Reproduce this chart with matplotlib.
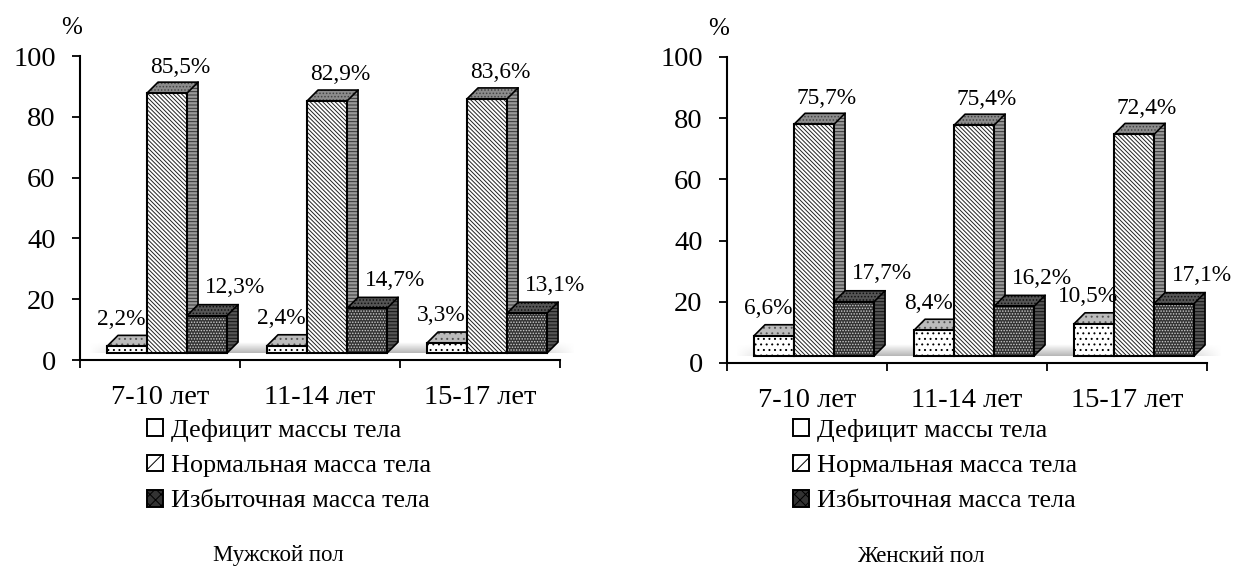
import numpy as np
import matplotlib
matplotlib.use("Agg")
import matplotlib.pyplot as plt
from matplotlib.patches import Patch

plt.rcParams['font.family'] = ['Liberation Serif', 'DejaVu Serif']
plt.rcParams['hatch.linewidth'] = 0.7

categories = ["7-10 лет", "11-14 лет", "15-17 лет"]
series_names = ["Дефицит массы тела", "Нормальная масса тела", "Избыточная масса тела"]
yticks = [0, 20, 40, 60, 80, 100]

male_deficit = [2.2, 2.4, 3.3]
male_normal = [85.5, 82.9, 83.6]
male_excess = [12.3, 14.7, 13.1]

female_deficit = [6.6, 8.4, 10.5]
female_normal = [75.7, 75.4, 72.4]
female_excess = [17.7, 16.2, 17.1]

W, H = 1235, 566
floor = 2.3       # bars stand a bit above the axis line
bar_w = 0.25      # 40 px
depth_x = 11 / 160.
depth_y = 3.6     # 11 px in y units

# front face, top, side: (fill, hatch colour, hatch)
styles = [
    dict(face='white', hc='black', hatch='...', leg='',
         top='#bcbcbc', thc='#555555', thatch='...', side='#777777', sc='#222222'),
    dict(face='white', hc='#222222', hatch='\\\\\\\\\\\\\\\\', leg='//',
         top='#8c8c8c', thc='#444444', thatch='.....', side='#9a9a9a', sc='#333333'),
    dict(face='#333333', hc='#cccccc', hatch='......', leg='xxx',
         top='#555555', thc='#111111', thatch='.....', side='#555555', sc='#111111'),
]
# label offset from the middle of the top edge of the front face, pixels
label_off = [(-6, 27), (13, 26), (28, 28)]


def px(x0, y0, w, h):
    return [x0 / W, 1 - (y0 + h) / H, w / W, h / H]


def draw_chart(rect, series, title, title_x, legend_x):
    ax = fig.add_axes(rect)
    ax.set_xlim(0, 3)
    ax.set_ylim(0, 100)

    # grey floor under the bars
    grad = np.linspace(0, 1, 20).reshape(-1, 1)
    fade = np.minimum(np.linspace(0, 8, 200), 1) * np.minimum(np.linspace(8, 0, 200), 1)
    img = np.ones((20, 200, 4))
    img[..., :3] = 0.72
    img[..., 3] = grad * fade
    ax.imshow(img, extent=(0.05, 3.1, floor, floor + depth_y), aspect='auto', zorder=1,
              clip_on=False)
    ax.set_xlim(0, 3)
    ax.set_ylim(0, 100)

    for i in range(3):
        for j in range(3):
            val = series[j][i]
            s = styles[j]
            x0 = i + 0.169 + j * bar_w
            top = floor + val
            # side and top faces
            ax.fill([x0 + bar_w, x0 + bar_w + depth_x, x0 + bar_w + depth_x, x0 + bar_w],
                    [floor, floor + depth_y, top + depth_y, top],
                    facecolor=s['side'], edgecolor=s['sc'], hatch='-----', lw=0, zorder=2 + j)
            ax.fill([x0, x0 + depth_x, x0 + bar_w + depth_x, x0 + bar_w],
                    [top, top + depth_y, top + depth_y, top],
                    facecolor=s['top'], edgecolor=s['thc'], hatch=s['thatch'], lw=0, zorder=2 + j)
            ax.plot([x0 + bar_w, x0 + bar_w + depth_x, x0 + bar_w + depth_x, x0 + bar_w],
                    [floor, floor + depth_y, top + depth_y, top], color='black', lw=1.2, zorder=2 + j)
            ax.plot([x0, x0 + depth_x, x0 + bar_w + depth_x],
                    [top, top + depth_y, top + depth_y], color='black', lw=1.2, zorder=2 + j)
            # front face
            ax.bar(x0, val, bar_w, bottom=floor, align='edge', facecolor=s['face'],
                   edgecolor=s['hc'], hatch=s['hatch'], lw=0, zorder=2 + j)
            ax.bar(x0, val, bar_w, bottom=floor, align='edge', fill=False,
                   edgecolor='black', lw=1.5, zorder=2 + j)
            off = label_off[j]
            ax.annotate(f"{val:.1f}%".replace('.', ','), (x0 + bar_w / 2, top),
                        xytext=(off[0] * 0.72, off[1] * 0.72), textcoords='offset points',
                        ha='center', va='center', fontsize=16.8, zorder=10,
                        annotation_clip=False)

    for sp in ['top', 'right']:
        ax.spines[sp].set_visible(False)
    for sp in ['left', 'bottom']:
        ax.spines[sp].set_linewidth(1.5)

    ax.set_yticks(yticks)
    ax.tick_params(axis='y', labelsize=20.5, length=6, width=1.3, pad=11.5)
    ax.set_xticks([0, 1, 2, 3])
    ax.set_xticklabels([])
    ax.tick_params(axis='x', which='major', length=6, width=1.3)
    ax.set_xticks([0.5, 1.5, 2.5], minor=True)
    ax.set_xticklabels(categories, minor=True)
    ax.tick_params(axis='x', which='minor', length=0, labelsize=20.5, pad=18)

    ax.text(-0.05, 109.2, "%", fontsize=18, ha='center', va='center', clip_on=False)

    handles = [Patch(facecolor=s['face'], edgecolor='black', hatch=s['leg'], lw=1.4)
               for s in styles]
    fig.legend(handles, series_names, loc='upper left',
               bbox_to_anchor=(legend_x / W, 1 - 419 / H), frameon=False,
               fontsize=18.8, handlelength=0.62, handleheight=0.62, handletextpad=0.3,
               labelspacing=0.48, borderpad=0, borderaxespad=0)

    fig.text(title_x / W, 1 - 556 / H, title, fontsize=16.5, ha='center', va='center')
    return ax


fig = plt.figure(figsize=(W / 100, H / 100), dpi=100)

draw_chart(px(80, 56, 480, 304), [male_deficit, male_normal, male_excess],
           "Мужской пол", 278, 147)
draw_chart(px(727, 57, 480, 306), [female_deficit, female_normal, female_excess],
           "Женский пол", 921, 793)

fig.savefig("out.png", dpi=100)
